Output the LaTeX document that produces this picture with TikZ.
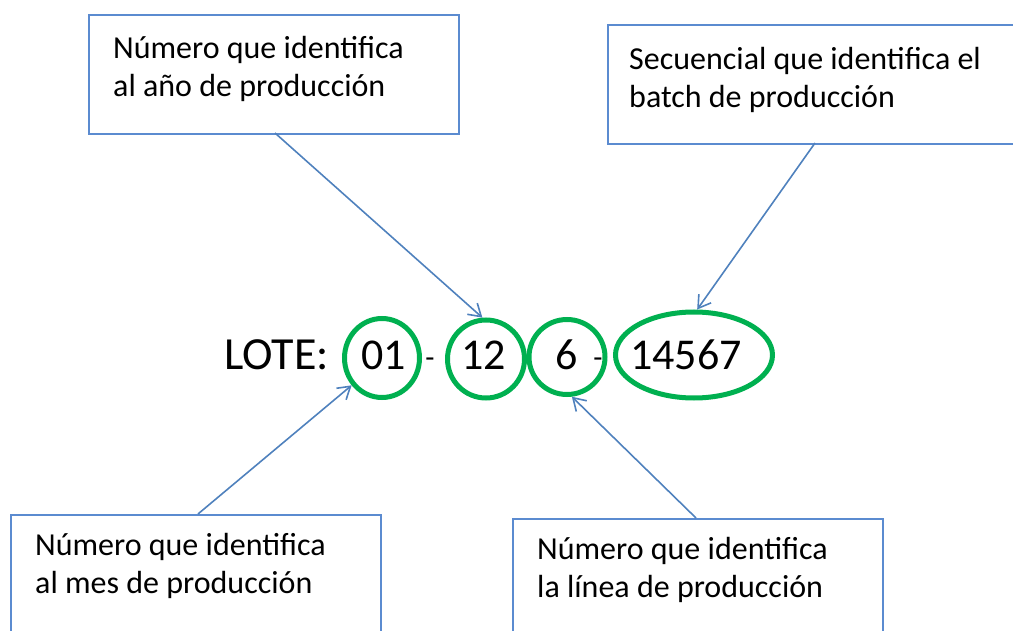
\documentclass[tikz,border=0pt]{standalone}
\usepackage{fontspec}
\setmainfont{Carlito}
\usetikzlibrary{arrows.meta,shapes.geometric}
\definecolor{lineblue}{HTML}{4F81BD}
\definecolor{boxblue}{HTML}{5B8BD0}
\definecolor{ringgreen}{HTML}{00B050}
\tikzset{
  infobox/.style={draw=boxblue, line width=1.8pt},
  boxtext/.style={inner sep=0pt, anchor=base west, font=\fontsize{32}{38}\selectfont},
  ring/.style={draw=ringgreen, line width=5pt, ellipse, inner sep=0pt},
  bigtext/.style={inner sep=0pt, anchor=base, font=\fontsize{44}{50}\selectfont},
  dashtext/.style={inner sep=0pt, anchor=base, font=\fontsize{30}{36}\selectfont},
  pointer/.style={draw=lineblue, line width=1.6pt, -{Straight Barb[length=12pt,width=15pt]}},
}
\begin{document}
\begin{tikzpicture}[x=1pt,y=-1pt]
\useasboundingbox (0,0) rectangle (1013,631);
\clip (0,0) rectangle (1013,631);
% boxes
\node[infobox, anchor=north west, minimum width=370pt, minimum height=119pt] (b1) at (88,14) {};
\node[infobox, anchor=north west, minimum width=420pt, minimum height=119pt] (b2) at (607,24) {};
\node[infobox, anchor=north west, minimum width=370pt, minimum height=140pt] (b3) at (10,514) {};
\node[infobox, anchor=north west, minimum width=370pt, minimum height=140pt] (b4) at (512,518) {};
% box texts
\node[boxtext] (t1) at (113,59) {\begin{tabular}[t]{@{}l@{}}Número que identifica\\al año de producción\end{tabular}};
\node[boxtext] (t2) at (629,70) {\begin{tabular}[t]{@{}l@{}}Secuencial que identifica el\\batch de producción\end{tabular}};
\node[boxtext] (t3) at (35,555) {\begin{tabular}[t]{@{}l@{}}Número que identifica\\al mes de producción\end{tabular}};
\node[boxtext] (t4) at (537,559) {\begin{tabular}[t]{@{}l@{}}Número que identifica\\la línea de producción\end{tabular}};
% code
\node[bigtext, anchor=base west, font=\fontsize{46}{52}\selectfont] (lote) at (224,370) {LOTE:};
\node[ring, minimum width=75pt, minimum height=79pt] (c1) at (382,358) {};
\node[ring, minimum width=77pt, minimum height=78pt] (c2) at (486,359) {};
\node[ring, minimum width=76pt, minimum height=75pt] (c3) at (567,357) {};
\node[ring, minimum width=157pt, minimum height=86pt] (c4) at (694,355) {};
\node[bigtext] (n1) at (383.5,370) {01};
\node[dashtext] (d1) at (430,367) {-};
\node[bigtext] (n2) at (483.5,370) {12};
\node[bigtext] (n3) at (567,370) {6};
\node[dashtext] (d2) at (598,367) {-};
\node[bigtext] (n4) at (686,370) {14567};
% arrows
\coordinate (s1) at (275,133);
\coordinate (s2) at (815,143);
\coordinate (s3) at (198,514);
\coordinate (s4) at (696,518);
\draw[pointer] (s1) -- (c2.95);
\draw[pointer] (s2) -- (c4.86);
\draw[pointer] (s3) -- (c1.222);
\draw[pointer] (s4) -- (c3.277);
\end{tikzpicture}
\end{document}
